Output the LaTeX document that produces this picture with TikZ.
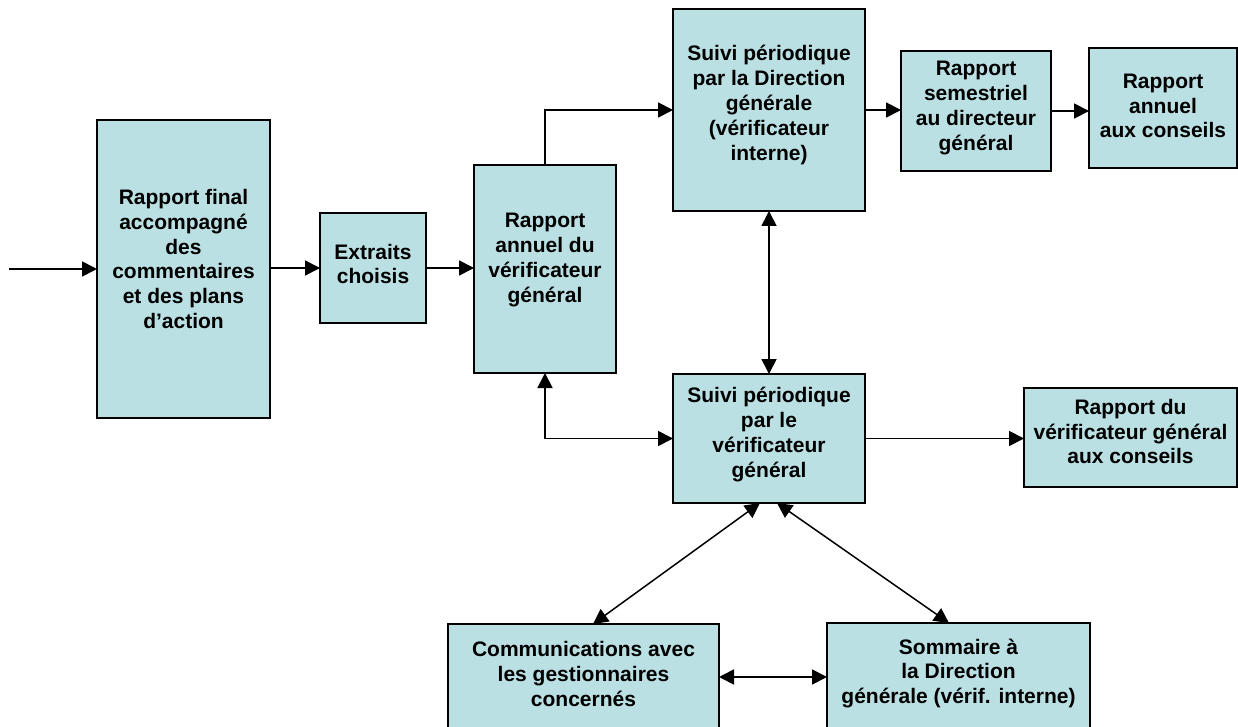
\documentclass[tikz,border=0pt]{standalone}
\usepackage{fontspec}
\setmainfont{Liberation Sans}
\usetikzlibrary{arrows.meta}
\definecolor{boxfill}{RGB}{187,224,227}
\begin{document}
\begin{tikzpicture}[x=1pt,y=-1pt,
  box/.style={draw=black, line width=2pt, fill=boxfill, inner sep=0pt, outer sep=0pt},
  txt/.style={align=center, font=\fontsize{21}{24.8}\selectfont\bfseries, inner sep=0pt},
  conn/.style={line width=1.8pt, -{Triangle[length=15pt,width=15pt]}},
  dconn/.style={line width=1.8pt, {Triangle[length=15pt,width=15pt]}-{Triangle[length=15pt,width=15pt]}}]
\useasboundingbox (0,0) rectangle (1238,727);
\clip (0,0) rectangle (1238,727);
% boxes
\node[box, minimum width=173pt, minimum height=298pt] (f) at (183.5,269) {};
\node[box, minimum width=106pt, minimum height=110pt] (e) at (373,268) {};
\node[box, minimum width=142pt, minimum height=208pt] (ra) at (545,269) {};
\node[box, minimum width=192pt, minimum height=202pt] (dg) at (769,110) {};
\node[box, minimum width=150pt, minimum height=120pt] (rs) at (976,111) {};
\node[box, minimum width=148pt, minimum height=120pt] (rc) at (1163,108) {};
\node[box, minimum width=192pt, minimum height=129pt] (vg) at (769,438.5) {};
\node[box, minimum width=213pt, minimum height=99pt] (rvg) at (1130.5,437.5) {};
\node[box, minimum width=271pt, minimum height=106pt] (cm) at (583.5,677) {};
\node[box, minimum width=263pt, minimum height=107pt] (sm) at (958.5,676.5) {};
% texts
\node[txt] (ft) at ([yshift=10pt]f.center) {Rapport final\\accompagné\\des\\commentaires\\et des plans\\d’action};
\node[txt] (et) at ([yshift=4pt]e.center) {Extraits\\choisis};
\node[txt] (rat) at ([yshift=9pt]ra.center) {Rapport\\annuel du\\vérificateur\\général};
\node[txt] (dgt) at ([yshift=5pt]dg.center) {Suivi périodique\\par la Direction\\générale\\(vérificateur\\interne)};
\node[txt] (rst) at ([yshift=3pt]rs.center) {Rapport\\semestriel\\au directeur\\général};
\node[txt] (rct) at ([yshift=2pt]rc.center) {Rapport\\annuel\\aux conseils};
\node[txt] (vgt) at ([yshift=4pt]vg.center) {Suivi périodique\\par le\\vérificateur\\général};
\node[txt] (rvgt) at ([yshift=6pt]rvg.center) {Rapport du\\vérificateur général\\aux conseils};
\node[txt] (cmt) at ([yshift=3pt]cm.center) {Communications avec\\les gestionnaires\\concernés};
\node[txt] (smt) at ([yshift=3pt]sm.center) {Sommaire à\\la Direction\\générale (vérif. interne)};
% connectors
\coordinate (in) at (9,269);
\draw[conn] (in) -- (f.west);
\draw[conn] (f.east |- e.west) -- (e.west);
\draw[conn] (e.east) -- (e.east -| ra.west);
\draw[conn] (ra.north) |- (dg.west);
\draw[dconn] (dg.south) -- (vg.north);
\draw[dconn] (ra.south) |- (vg.west);
\draw[conn] (vg.east) -- (vg.east -| rvg.west);
\draw[conn] (dg.east) -- (dg.east -| rs.west);
\draw[conn] (rs.east) -- (rs.east -| rc.west);
\draw[dconn, line width=1.5pt] ([xshift=-9pt]vg.south) -- ([xshift=9.5pt]cm.north);
\draw[dconn, line width=1.5pt] ([xshift=8pt]vg.south) -- ([xshift=-9.5pt]sm.north);
\draw[dconn] (cm.east) -- (cm.east -| sm.west);
\end{tikzpicture}
\end{document}
